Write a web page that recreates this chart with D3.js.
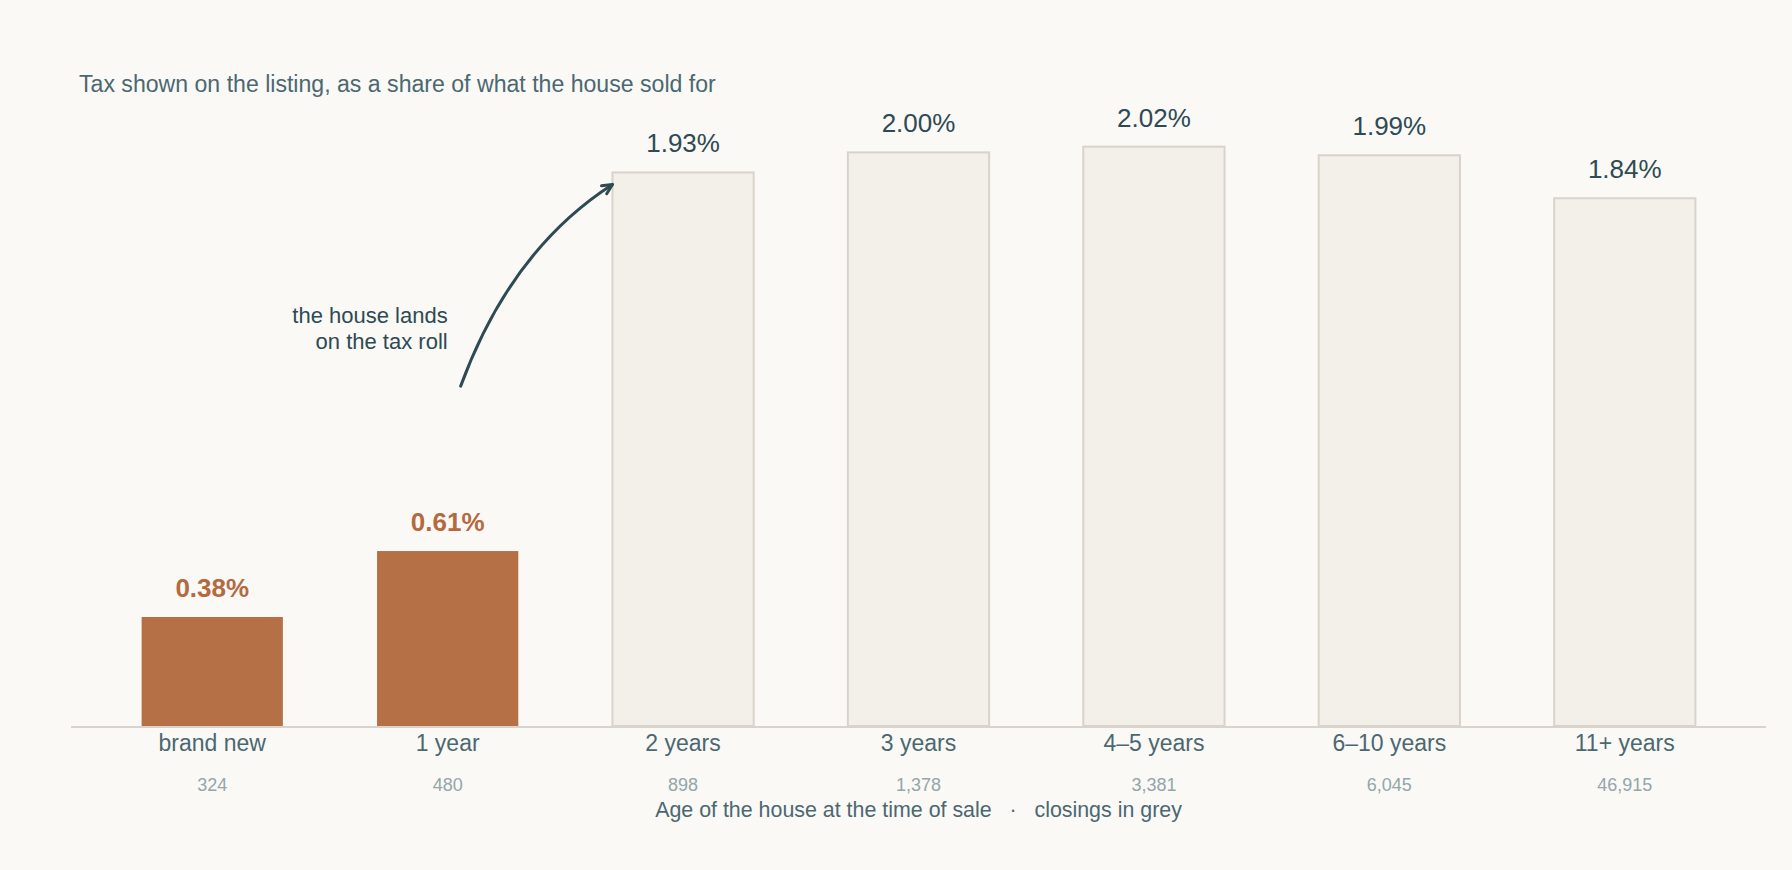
<!DOCTYPE html>
<html>
<head>
<meta charset="utf-8">
<script src="https://cdn.jsdelivr.net/npm/d3@7"></script>
<style>
  html, body { margin: 0; padding: 0; background: #faf9f6; }
  svg { display: block; font-family: "Liberation Sans", Arial, sans-serif; }
</style>
</head>
<body>
<svg id="chart"></svg>
<script>
// Tax on listing as share of sale price, by age of house
const categories = ['brand new', '1 year', '2 years', '3 years', '4\u20135 years', '6\u201310 years', '11+ years'];
const taxShare = [0.38, 0.61, 1.93, 2.00, 2.02, 1.99, 1.84];
const closings = [324, 480, 898, 1378, 3381, 6045, 46915];
const isNew = [true, true, false, false, false, false, false];

const width = 1792, height = 870;
const margin = { top: 95, right: 26, bottom: 144, left: 71 };

const svg = d3.select('#chart').attr('width', width).attr('height', height);

const x = d3.scaleBand()
    .domain(categories)
    .range([margin.left, width - margin.right])
    .paddingInner(0.4)
    .paddingOuter(0.3);

const y = d3.scaleLinear()
    .domain([0, 2.2])
    .range([height - margin.bottom, margin.top]);

const rows = categories.map((c, i) => ({ cat: c, v: taxShare[i], n: closings[i], fresh: isNew[i] }));

// Title
svg.append('text')
    .attr('x', margin.left + 8)
    .attr('y', 92)
    .attr('font-size', 23.1)
    .attr('fill', '#4b6871')
    .text('Tax shown on the listing, as a share of what the house sold for');

// Bars
svg.append('g').selectAll('rect')
    .data(rows)
    .join('rect')
    .attr('x', d => x(d.cat))
    .attr('y', d => y(d.v))
    .attr('width', x.bandwidth())
    .attr('height', d => y(0) - y(d.v))
    .attr('fill', d => d.fresh ? '#b57045' : '#f3efe9')
    .attr('stroke', d => d.fresh ? 'none' : '#d9d3cb')
    .attr('stroke-width', 2);

// Baseline
svg.append('line')
    .attr('x1', margin.left)
    .attr('x2', width - margin.right)
    .attr('y1', y(0) + 1)
    .attr('y2', y(0) + 1)
    .attr('stroke', '#d9d3cb')
    .attr('stroke-width', 2);

// Value labels
svg.append('g').selectAll('text')
    .data(rows)
    .join('text')
    .attr('x', d => x(d.cat) + x.bandwidth() / 2)
    .attr('y', d => y(d.v) - 20)
    .attr('text-anchor', 'middle')
    .attr('font-size', 26)
    .attr('font-weight', d => d.fresh ? 'bold' : 'normal')
    .attr('fill', d => d.fresh ? '#b5693f' : '#2e4a53')
    .text(d => d.v.toFixed(2) + '%');

// Category labels
svg.append('g').selectAll('text')
    .data(rows)
    .join('text')
    .attr('x', d => x(d.cat) + x.bandwidth() / 2)
    .attr('y', y(0) + 25)
    .attr('text-anchor', 'middle')
    .attr('font-size', 23)
    .attr('fill', '#4b6871')
    .text(d => d.cat);

// Closings count
svg.append('g').selectAll('text')
    .data(rows)
    .join('text')
    .attr('x', d => x(d.cat) + x.bandwidth() / 2)
    .attr('y', y(0) + 65)
    .attr('text-anchor', 'middle')
    .attr('font-size', 18)
    .attr('fill', '#93a6a9')
    .text(d => d3.format(',')(d.n));

// Axis title
svg.append('text')
    .attr('x', (margin.left + width - margin.right) / 2)
    .attr('y', y(0) + 91)
    .attr('text-anchor', 'middle')
    .attr('font-size', 21.4)
    .attr('fill', '#4b6871')
    .text('Age of the house at the time of sale \u00a0\u00a0\u00b7\u00a0\u00a0 closings in grey');

// Annotation
const bx = x('1 year') + x.bandwidth() / 2;
const ann = svg.append('text')
    .attr('x', bx)
    .attr('y', 323)
    .attr('text-anchor', 'end')
    .attr('font-size', 22)
    .attr('fill', '#2e4a53');
ann.append('tspan').attr('x', bx).text('the house lands');
ann.append('tspan').attr('x', bx).attr('dy', 26).text('on the tax roll');

const p0 = [bx + 13, y(1.185)];
const p2 = [x('2 years'), y(1.93) + 12];
const c = [bx + 63, y(1.66)];
const arc = d3.path();
arc.moveTo(p0[0], p0[1]);
arc.quadraticCurveTo(c[0], c[1], p2[0], p2[1]);
svg.append('path')
    .attr('d', arc.toString())
    .attr('fill', 'none')
    .attr('stroke', '#2e4a53')
    .attr('stroke-width', 3)
    .attr('stroke-linecap', 'round');

// Arrow head along the end tangent
const ang = Math.atan2(p2[1] - c[1], p2[0] - c[0]);
const hl = 11, spread = 0.45;
const head = d3.path();
head.moveTo(p2[0] - hl * Math.cos(ang - spread), p2[1] - hl * Math.sin(ang - spread));
head.lineTo(p2[0], p2[1]);
head.lineTo(p2[0] - hl * Math.cos(ang + spread), p2[1] - hl * Math.sin(ang + spread));
svg.append('path')
    .attr('d', head.toString())
    .attr('fill', 'none')
    .attr('stroke', '#2e4a53')
    .attr('stroke-width', 3)
    .attr('stroke-linecap', 'round')
    .attr('stroke-linejoin', 'round');
</script>
</body>
</html>
